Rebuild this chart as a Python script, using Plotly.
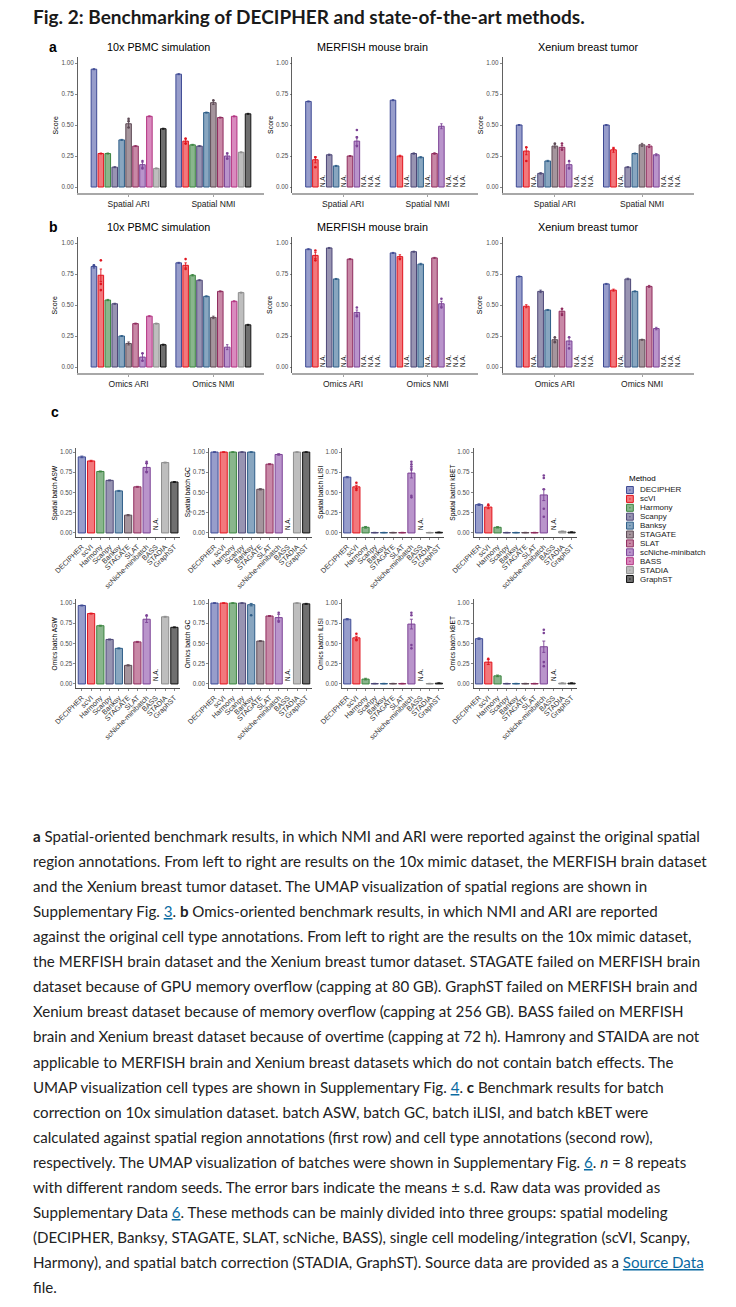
import plotly.graph_objects as go

W, H = 736, 1307
CF = "Liberation Sans, Arial, sans-serif"


def fx(px):
    return px / W


def fy(py):
    return 1 - py / H


METHODS = ["DECIPHER", "scVI", "Harmony", "Scanpy", "Banksy", "STAGATE", "SLAT",
           "scNiche-minibatch", "BASS", "STADIA", "GraphST"]
LINE_COLORS = ["#3E4A94", "#E0141E", "#3B8440", "#4D4777", "#2E5E88", "#5D4A55",
               "#8F2C5E", "#7C4396", "#B23380", "#8E8E8E", "#141414"]
FILL_COLORS = ["#979DCB", "#F2787C", "#89B68C", "#9894B2", "#88A6C0", "#A5959D",
               "#C888A6", "#B994CB", "#D98ABE", "#BEBEBE", "#6F6F6F"]

SPATIAL_METRICS = ["Spatial ARI", "Spatial NMI"]
OMICS_METRICS = ["Omics ARI", "Omics NMI"]
DATASETS = ["10x PBMC simulation", "MERFISH mouse brain", "Xenium breast tumor"]
NA = None

# ---------------- panel a (spatial) ----------------
a_pbmc_ari = [0.95, 0.27, 0.27, 0.16, 0.38, 0.51, 0.33, 0.18, 0.57, 0.15, 0.47]
a_pbmc_ari_sd = [0.004, 0.004, 0.004, 0.004, 0.004, 0.03, 0.004, 0.02, 0.004, 0.004, 0.004]
a_pbmc_nmi = [0.91, 0.37, 0.34, 0.33, 0.60, 0.68, 0.56, 0.25, 0.57, 0.28, 0.59]
a_pbmc_nmi_sd = [0.004, 0.02, 0.004, 0.004, 0.004, 0.015, 0.004, 0.025, 0.004, 0.004, 0.004]
a_pbmc_pts = {(0, "STAGATE"): [0.55, 0.53, 0.48], (0, "scNiche-minibatch"): [0.21, 0.15],
              (1, "scVI"): [0.39, 0.35], (1, "STAGATE"): [0.70],
              (1, "scNiche-minibatch"): [0.27, 0.23]}

a_merfish_ari = [0.69, 0.22, NA, 0.26, 0.17, NA, 0.25, 0.37, NA, NA, NA]
a_merfish_ari_sd = [0.004, 0.025, NA, 0.005, 0.004, NA, 0.004, 0.035, NA, NA, NA]
a_merfish_nmi = [0.70, 0.25, NA, 0.27, 0.24, NA, 0.27, 0.49, NA, NA, NA]
a_merfish_nmi_sd = [0.004, 0.006, NA, 0.005, 0.005, NA, 0.006, 0.02, NA, NA, NA]
a_merfish_pts = {(0, "scVI"): [0.24, 0.16], (0, "scNiche-minibatch"): [0.46, 0.40, 0.33]}

a_xenium_ari = [0.50, 0.29, NA, 0.11, 0.21, 0.33, 0.32, 0.18, NA, NA, NA]
a_xenium_ari_sd = [0.004, 0.03, NA, 0.006, 0.005, 0.015, 0.015, 0.025, NA, NA, NA]
a_xenium_nmi = [0.50, 0.30, NA, 0.16, 0.27, 0.34, 0.33, 0.26, NA, NA, NA]
a_xenium_nmi_sd = [0.004, 0.02, NA, 0.004, 0.004, 0.012, 0.012, 0.008, NA, NA, NA]
a_xenium_pts = {(0, "scVI"): [0.32, 0.21], (0, "STAGATE"): [0.35], (0, "SLAT"): [0.35, 0.30],
                (0, "scNiche-minibatch"): [0.21, 0.15], (1, "scVI"): [0.31]}

# ---------------- panel b (omics) ----------------
b_pbmc_ari = [0.81, 0.74, 0.54, 0.51, 0.25, 0.19, 0.35, 0.08, 0.41, 0.35, 0.18]
b_pbmc_ari_sd = [0.012, 0.05, 0.005, 0.004, 0.004, 0.012, 0.004, 0.03, 0.004, 0.004, 0.004]
b_pbmc_nmi = [0.84, 0.82, 0.74, 0.70, 0.57, 0.40, 0.61, 0.16, 0.53, 0.60, 0.34]
b_pbmc_nmi_sd = [0.004, 0.02, 0.006, 0.004, 0.004, 0.01, 0.004, 0.02, 0.004, 0.004, 0.004]
b_pbmc_pts = {(0, "scVI"): [0.86, 0.67, 0.62], (0, "DECIPHER"): [0.82],
              (1, "scVI"): [0.87, 0.79], (0, "scNiche-minibatch"): [0.11, 0.05]}

b_merfish_ari = [0.95, 0.90, NA, 0.96, 0.71, NA, 0.87, 0.44, NA, NA, NA]
b_merfish_ari_sd = [0.004, 0.025, NA, 0.004, 0.004, NA, 0.004, 0.02, NA, NA, NA]
b_merfish_nmi = [0.92, 0.89, NA, 0.93, 0.83, NA, 0.88, 0.51, NA, NA, NA]
b_merfish_nmi_sd = [0.004, 0.015, NA, 0.004, 0.006, NA, 0.004, 0.02, NA, NA, NA]
b_merfish_pts = {(0, "scVI"): [0.94, 0.86], (0, "scNiche-minibatch"): [0.48, 0.41],
                 (1, "scVI"): [0.87], (1, "scNiche-minibatch"): [0.55, 0.48]}

b_xenium_ari = [0.73, 0.49, NA, 0.61, 0.46, 0.22, 0.45, 0.21, NA, NA, NA]
b_xenium_ari_sd = [0.004, 0.012, NA, 0.01, 0.004, 0.015, 0.02, 0.03, NA, NA, NA]
b_xenium_nmi = [0.67, 0.62, NA, 0.71, 0.61, 0.22, 0.65, 0.31, NA, NA, NA]
b_xenium_nmi_sd = [0.004, 0.008, NA, 0.006, 0.004, 0.004, 0.008, 0.01, NA, NA, NA]
b_xenium_pts = {(0, "scNiche-minibatch"): [0.24, 0.15], (0, "SLAT"): [0.47, 0.42],
                (0, "STAGATE"): [0.24, 0.20]}

# ---------------- panel c (batch correction) ----------------
C_TITLES = ["Spatial batch ASW", "Spatial batch GC", "Spatial batch iLISI", "Spatial batch kBET",
            "Omics batch ASW", "Omics batch GC", "Omics batch iLISI", "Omics batch kBET"]
sp_asw = [0.94, 0.89, 0.76, 0.65, 0.52, 0.22, 0.57, 0.81, NA, 0.87, 0.63]
sp_asw_sd = [0.01, 0.008, 0.006, 0.006, 0.006, 0.008, 0.006, 0.05, NA, 0.006, 0.006]
sp_asw_pts = {"scNiche-minibatch": [0.88, 0.86, 0.75]}
sp_gc = [1.0, 1.0, 1.0, 1.0, 1.0, 0.54, 0.85, 0.97, NA, 1.0, 1.0]
sp_gc_sd = [0.004, 0.004, 0.004, 0.004, 0.004, 0.008, 0.006, 0.01, NA, 0.004, 0.004]
sp_gc_pts = {}
sp_ilisi = [0.69, 0.57, 0.07, 0.005, 0.005, 0.005, 0.005, 0.74, NA, 0.005, 0.008]
sp_ilisi_sd = [0.008, 0.02, 0.01, 0.003, 0.003, 0.003, 0.003, 0.06, NA, 0.003, 0.004]
sp_ilisi_pts = {"scVI": [0.62, 0.53], "scNiche-minibatch": [0.88, 0.85, 0.82, 0.78, 0.46, 0.44]}
sp_kbet = [0.35, 0.32, 0.07, 0.005, 0.005, 0.005, 0.005, 0.47, NA, 0.02, 0.01]
sp_kbet_sd = [0.01, 0.02, 0.008, 0.003, 0.003, 0.003, 0.003, 0.07, NA, 0.004, 0.004]
sp_kbet_pts = {"scVI": [0.35], "scNiche-minibatch": [0.71, 0.68, 0.54, 0.30, 0.20]}

om_asw = [0.97, 0.87, 0.72, 0.55, 0.44, 0.23, 0.52, 0.80, NA, 0.83, 0.70]
om_asw_sd = [0.006, 0.006, 0.006, 0.006, 0.006, 0.008, 0.006, 0.04, NA, 0.006, 0.006]
om_asw_pts = {"scNiche-minibatch": [0.85]}
om_gc = [1.0, 1.0, 1.0, 1.0, 0.98, 0.53, 0.84, 0.82, NA, 1.0, 0.99]
om_gc_sd = [0.004, 0.004, 0.004, 0.004, 0.015, 0.006, 0.006, 0.04, NA, 0.004, 0.006]
om_gc_pts = {"Banksy": [0.85], "scNiche-minibatch": [0.88, 0.77]}
om_ilisi = [0.80, 0.57, 0.06, 0.005, 0.005, 0.005, 0.005, 0.74, NA, 0.005, 0.01]
om_ilisi_sd = [0.008, 0.02, 0.01, 0.003, 0.003, 0.003, 0.003, 0.06, NA, 0.003, 0.004]
om_ilisi_pts = {"scVI": [0.62, 0.54], "scNiche-minibatch": [0.88, 0.85, 0.48, 0.44]}
om_kbet = [0.56, 0.27, 0.10, 0.005, 0.005, 0.005, 0.005, 0.46, NA, 0.01, 0.01]
om_kbet_sd = [0.01, 0.03, 0.01, 0.003, 0.003, 0.003, 0.003, 0.07, NA, 0.004, 0.004]
om_kbet_pts = {"scVI": [0.31], "scNiche-minibatch": [0.67, 0.63, 0.27, 0.22]}

Y_TICKS = [0, 0.25, 0.5, 0.75, 1.0]
Y_TICKTEXT = ["0.00", "0.25", "0.50", "0.75", "1.00"]

fig = go.Figure()
axes = {}
annotations = []
shapes = []


def axkey(n):
    return "" if n == 1 else str(n)


def ycfg():
    return dict(range=[-0.05, 1.05], tickvals=Y_TICKS, ticktext=Y_TICKTEXT, showline=True,
                linecolor="#3a3a3a", linewidth=0.8, ticks="outside", ticklen=2, tickwidth=0.6,
                tickcolor="#3a3a3a", tickfont=dict(family=CF, size=6.3, color="#4d4d4d"),
                showgrid=False, zeroline=False, fixedrange=True)


def add_axes(n, x0, x1, ytop, ybot, xconf):
    k = axkey(n)
    axes["xaxis" + k] = dict(domain=[fx(x0), fx(x1)], anchor="y" + k, **xconf)
    axes["yaxis" + k] = dict(domain=[fy(ybot), fy(ytop)], anchor="x" + k, **ycfg())


SLOT = 0.9 / len(METHODS)


def dodge_x(cat_idx, m_idx):
    return (cat_idx + 1) - 0.45 + SLOT * (m_idx + 0.5)


def grouped_panel(n, series, sds, pts):
    k = axkey(n)
    for i, m in enumerate(METHODS):
        xs, ys, es, na_x = [], [], [], []
        for c in range(len(series)):
            v = series[c][i]
            if v is None:
                na_x.append(dodge_x(c, i))
            else:
                xs.append(dodge_x(c, i))
                ys.append(v)
                es.append(sds[c][i])
        if xs:
            fig.add_trace(go.Bar(
                x=xs, y=ys, width=SLOT * 0.8, xaxis="x" + k, yaxis="y" + k,
                marker=dict(color=FILL_COLORS[i], line=dict(color=LINE_COLORS[i], width=1)),
                error_y=dict(type="data", array=es, color=LINE_COLORS[i], thickness=0.9, width=1.2),
                hoverinfo="skip"))
        if na_x:
            fig.add_trace(go.Bar(
                x=na_x, y=[0] * len(na_x), width=SLOT * 0.8, xaxis="x" + k, yaxis="y" + k,
                marker=dict(color="rgba(0,0,0,0)", line=dict(width=0)),
                text=["N.A."] * len(na_x), textposition="outside", textangle=-90,
                constraintext="none", cliponaxis=False,
                textfont=dict(family=CF, size=6.3, color="#111111"), hoverinfo="skip"))
    for (c, m), vals in pts.items():
        i = METHODS.index(m)
        fig.add_trace(go.Scatter(
            x=[dodge_x(c, i)] * len(vals), y=vals, mode="markers", xaxis="x" + k, yaxis="y" + k,
            marker=dict(size=2.6, color=LINE_COLORS[i]), hoverinfo="skip", cliponaxis=False))


def method_panel(n, vals, sds, pts):
    k = axkey(n)
    for i, m in enumerate(METHODS):
        v = vals[i]
        if v is None:
            fig.add_trace(go.Bar(
                x=[m], y=[0], width=0.78, xaxis="x" + k, yaxis="y" + k,
                marker=dict(color="rgba(0,0,0,0)", line=dict(width=0)),
                text=["N.A."], textposition="outside", textangle=-90, constraintext="none",
                cliponaxis=False, textfont=dict(family=CF, size=6.3, color="#111111"),
                hoverinfo="skip"))
        else:
            fig.add_trace(go.Bar(
                x=[m], y=[v], width=0.78, xaxis="x" + k, yaxis="y" + k,
                marker=dict(color=FILL_COLORS[i], line=dict(color=LINE_COLORS[i], width=1)),
                error_y=dict(type="data", array=[sds[i]], color=LINE_COLORS[i], thickness=0.9, width=1.5),
                hoverinfo="skip"))
    for m, pv in pts.items():
        i = METHODS.index(m)
        fig.add_trace(go.Scatter(
            x=[m] * len(pv), y=pv, mode="markers", xaxis="x" + k, yaxis="y" + k,
            marker=dict(size=2.6, color=LINE_COLORS[i]), hoverinfo="skip", cliponaxis=False))


def xcfg_group(metrics):
    return dict(range=[0.4, 2.6], tickvals=[1, 2], ticktext=metrics, showline=True,
                linecolor="#a8a8a8", linewidth=1.6, ticks="outside", ticklen=2, tickwidth=0.6,
                tickcolor="#666666", tickfont=dict(family=CF, size=8.5, color="#1a1a1a"),
                showgrid=False, zeroline=False, fixedrange=True)


def xcfg_method():
    return dict(type="category", categoryorder="array", categoryarray=METHODS,
                range=[-0.6, 10.6], tickangle=-45, showline=True, linecolor="#3a3a3a",
                linewidth=0.9, ticks="outside", ticklen=2, tickwidth=0.6, tickcolor="#3a3a3a",
                tickfont=dict(family=CF, size=7.2, color="#333333"), showgrid=False,
                zeroline=False, fixedrange=True)


# ----- geometry (pixels) -----
AB_X = [(56.5, 249), (278, 470), (495, 693)]
A_Y = (56.8, 193.2)
B_Y = (236.8, 373.2)
C_X = [(55, 162), (192, 298), (329, 435), (465, 572)]
C_Y = [(448, 537), (599, 688)]

a_series = [([a_pbmc_ari, a_pbmc_nmi], [a_pbmc_ari_sd, a_pbmc_nmi_sd], a_pbmc_pts),
            ([a_merfish_ari, a_merfish_nmi], [a_merfish_ari_sd, a_merfish_nmi_sd], a_merfish_pts),
            ([a_xenium_ari, a_xenium_nmi], [a_xenium_ari_sd, a_xenium_nmi_sd], a_xenium_pts)]
b_series = [([b_pbmc_ari, b_pbmc_nmi], [b_pbmc_ari_sd, b_pbmc_nmi_sd], b_pbmc_pts),
            ([b_merfish_ari, b_merfish_nmi], [b_merfish_ari_sd, b_merfish_nmi_sd], b_merfish_pts),
            ([b_xenium_ari, b_xenium_nmi], [b_xenium_ari_sd, b_xenium_nmi_sd], b_xenium_pts)]
c_series = [(sp_asw, sp_asw_sd, sp_asw_pts), (sp_gc, sp_gc_sd, sp_gc_pts),
            (sp_ilisi, sp_ilisi_sd, sp_ilisi_pts), (sp_kbet, sp_kbet_sd, sp_kbet_pts),
            (om_asw, om_asw_sd, om_asw_pts), (om_gc, om_gc_sd, om_gc_pts),
            (om_ilisi, om_ilisi_sd, om_ilisi_pts), (om_kbet, om_kbet_sd, om_kbet_pts)]

TITLE_X = [140, 361, 584]


def text_ann(x, y, text, size, color="#000000", xanchor="center", angle=0, family=CF, yanchor="middle"):
    annotations.append(dict(x=fx(x), y=fy(y), xref="paper", yref="paper", text=text,
                            showarrow=False, xanchor=xanchor, yanchor=yanchor, textangle=angle,
                            font=dict(family=family, size=size, color=color)))


n = 1
for row, (series_list, metrics, ylims, letter, ltr_y) in enumerate(
        [(a_series, SPATIAL_METRICS, A_Y, "a", 47), (b_series, OMICS_METRICS, B_Y, "b", 227)]):
    text_ann(31, ltr_y, "<b>%s</b>" % letter, 14)
    for j, (ser, sds, pts) in enumerate(series_list):
        add_axes(n, AB_X[j][0], AB_X[j][1], ylims[0], ylims[1], xcfg_group(metrics))
        grouped_panel(n, ser, sds, pts)
        text_ann(TITLE_X[j], ltr_y, DATASETS[j], 10.8)
        text_ann(AB_X[j][0] - 23, (ylims[0] + ylims[1]) / 2, "Score", 7, angle=-90)
        n += 1

text_ann(33, 412, "<b>c</b>", 14)
for idx, (vals, sds, pts) in enumerate(c_series):
    r, col = divmod(idx, 4)
    add_axes(n, C_X[col][0], C_X[col][1], C_Y[r][0], C_Y[r][1], xcfg_method())
    method_panel(n, vals, sds, pts)
    text_ann(C_X[col][0] - 22, (C_Y[r][0] + C_Y[r][1]) / 2, C_TITLES[idx], 6.6, angle=-90)
    n += 1

# ----- legend (drawn manually, compact like ggplot) -----
LEG_X, LEG_Y0, LEG_DY = 623, 490, 8.9
text_ann(LEG_X, 478, "Method", 8, xanchor="left")
for i, m in enumerate(METHODS):
    cy = LEG_Y0 + LEG_DY * i
    shapes.append(dict(type="rect", xref="paper", yref="paper",
                       x0=fx(LEG_X), x1=fx(LEG_X + 7), y0=fy(cy + 3.5), y1=fy(cy - 3.5),
                       fillcolor=FILL_COLORS[i], line=dict(color=LINE_COLORS[i], width=1)))
    shapes.append(dict(type="circle", xref="paper", yref="paper",
                       x0=fx(LEG_X + 2.8), x1=fx(LEG_X + 4.2), y0=fy(cy + 0.7), y1=fy(cy - 0.7),
                       fillcolor=LINE_COLORS[i], line=dict(width=0)))
    text_ann(LEG_X + 12, cy, m, 8, color="#1a1a1a", xanchor="left")

# ----- figure title -----
text_ann(8, 17, "<b>Fig. 2: Benchmarking of DECIPHER and state-of-the-art methods.</b>", 19,
         color="#1a1a1a", xanchor="left", family="Lato, sans-serif")

# ----- caption -----
LINK = '<span style="color:#0a6aa1"><u>%s</u></span>'
CAPTION_LINES = [
    "<b>a</b> Spatial-oriented benchmark results, in which NMI and ARI were reported against the original spatial",
    "region annotations. From left to right are results on the 10x mimic dataset, the MERFISH brain dataset",
    "and the Xenium breast tumor dataset. The UMAP visualization of spatial regions are shown in",
    "Supplementary Fig. " + LINK % "3" + ". <b>b</b> Omics-oriented benchmark results, in which NMI and ARI are reported",
    "against the original cell type annotations. From left to right are the results on the 10x mimic dataset,",
    "the MERFISH brain dataset and the Xenium breast tumor dataset. STAGATE failed on MERFISH brain",
    "dataset because of GPU memory overflow (capping at 80 GB). GraphST failed on MERFISH brain and",
    "Xenium breast dataset because of memory overflow (capping at 256 GB). BASS failed on MERFISH",
    "brain and Xenium breast dataset because of overtime (capping at 72 h). Hamrony and STAIDA are not",
    "applicable to MERFISH brain and Xenium breast datasets which do not contain batch effects. The",
    "UMAP visualization cell types are shown in Supplementary Fig. " + LINK % "4" + ". <b>c</b> Benchmark results for batch",
    "correction on 10x simulation dataset. batch ASW, batch GC, batch iLISI, and batch kBET were",
    "calculated against spatial region annotations (first row) and cell type annotations (second row),",
    "respectively. The UMAP visualization of batches were shown in Supplementary Fig. " + LINK % "6" + ". <i>n</i> = 8 repeats",
    "with different random seeds. The error bars indicate the means ± s.d. Raw data was provided as",
    "Supplementary Data " + LINK % "6" + ". These methods can be mainly divided into three groups: spatial modeling",
    "(DECIPHER, Banksy, STAGATE, SLAT, scNiche, BASS), single cell modeling/integration (scVI, Scanpy,",
    "Harmony), and spatial batch correction (STADIA, GraphST). Source data are provided as a " + LINK % "Source Data",
    "file.",
]
CAP_Y0, CAP_DY = 836, 25.06
for i, line in enumerate(CAPTION_LINES):
    text_ann(8, CAP_Y0 + CAP_DY * i, line, 15.1, color="#222222", xanchor="left",
             family="Lato, Open Sans, sans-serif")

fig.update_layout(width=W, height=H, margin=dict(l=0, r=0, t=0, b=0),
                  paper_bgcolor="white", plot_bgcolor="white", showlegend=False,
                  barmode="overlay", annotations=annotations, shapes=shapes, **axes)

fig.write_html("out.html", include_plotlyjs=True,
               config={"displayModeBar": False, "staticPlot": True},
               post_script="document.body.style.margin='0';")
